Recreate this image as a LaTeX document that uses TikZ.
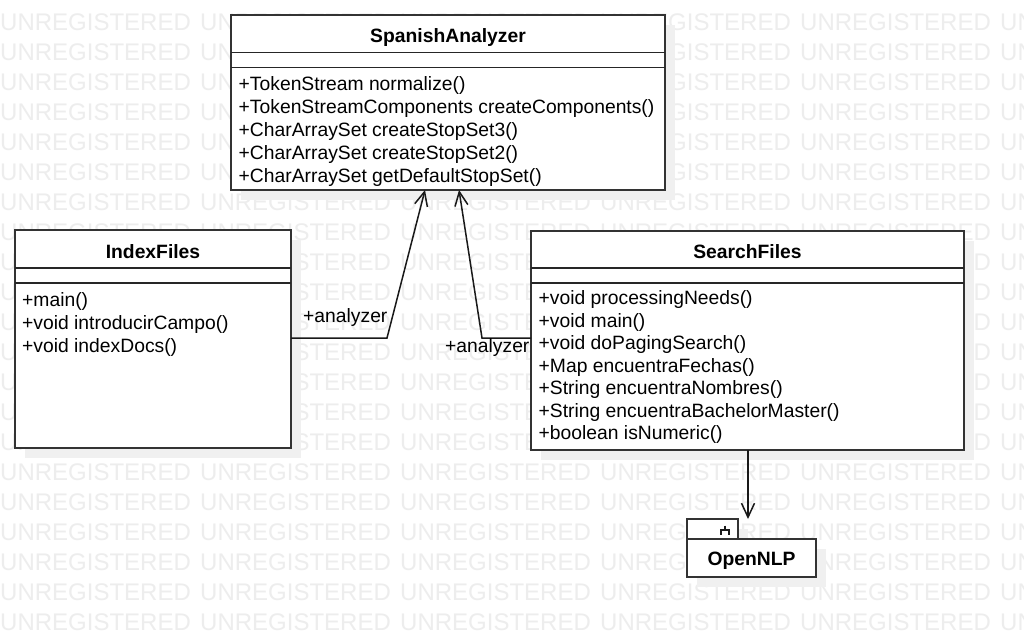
\documentclass[tikz,border=0pt]{standalone}
\usepackage{fontspec}
\setmainfont{Liberation Sans}
\usetikzlibrary{arrows.meta,calc}
\begin{document}
\begin{tikzpicture}[x=1pt,y=-1pt,
  wm/.style={font=\fontsize{24}{24}\selectfont, text=black!7, anchor=base west, inner sep=0pt},
  shadowbox/.style={fill=black!6, draw=none},
  cls/.style={draw=black!80, line width=2pt, fill=white, rectangle, inner sep=0pt, outer sep=0pt, anchor=north west},
  sepline/.style={draw=black!85, line width=1.5pt},
  mtxt/.style={font=\fontsize{19.3}{23}\selectfont, anchor=base west, inner sep=0pt},
  ttxt/.style={font=\fontsize{19.3}{23}\selectfont\bfseries, anchor=base, inner sep=0pt},
  conn/.style={draw=black!90, line width=1.5pt},
  barb/.style={-{Straight Barb[length=14pt,width=13pt]}},
  symline/.style={draw=black!90, line width=1.5pt}
]
\useasboundingbox (0,0) rectangle (1024,637);
\fill[white] (0,0) rectangle (1024,637);
% watermark
\begin{scope}
\clip (0,0) rectangle (1024,637);
\foreach \wrow in {0,...,20}{
  \foreach \wcol in {0,...,5}{
    \node[wm] (wm-\wrow-\wcol) at (200*\wcol, 30.6+30*\wrow) {UNREGISTERED};
  }
}
\end{scope}
% shadows
\fill[shadowbox] (241,25) rectangle (675,200);
\fill[shadowbox] (25,240) rectangle (301,458);
\fill[shadowbox] (541,241) rectangle (974,460);
\fill[shadowbox] (697,529) rectangle (748,549);
\fill[shadowbox] (697,549) rectangle (826,587);
% SpanishAnalyzer
\node[cls, minimum width=434pt, minimum height=175pt] (spanish) at (231,15) {};
\draw[sepline] ($(spanish.north west)+(0,37.7)$) -- ($(spanish.north east)+(0,37.7)$);
\draw[sepline] ($(spanish.north west)+(0,52.3)$) -- ($(spanish.north east)+(0,52.3)$);
\node[ttxt] (spanish-t) at (448,42) {SpanishAnalyzer};
\node[mtxt] (spanish-m1) at (238.5,90.5) {+TokenStream normalize()};
\node[mtxt] (spanish-m2) at (238.5,113.5) {+TokenStreamComponents createComponents()};
\node[mtxt] (spanish-m3) at (238.5,136.5) {+CharArraySet createStopSet3()};
\node[mtxt] (spanish-m4) at (238.5,159.5) {+CharArraySet createStopSet2()};
\node[mtxt] (spanish-m5) at (238.5,182.5) {+CharArraySet getDefaultStopSet()};
% IndexFiles
\node[cls, minimum width=276pt, minimum height=218pt] (index) at (15,230) {};
\draw[sepline] ($(index.north west)+(0,38)$) -- ($(index.north east)+(0,38)$);
\draw[sepline] ($(index.north west)+(0,53)$) -- ($(index.north east)+(0,53)$);
\node[ttxt] (index-t) at (153,258) {IndexFiles};
\node[mtxt] (index-m1) at (22,306) {+main()};
\node[mtxt] (index-m2) at (22,329) {+void introducirCampo()};
\node[mtxt] (index-m3) at (22,352) {+void indexDocs()};
% SearchFiles
\node[cls, minimum width=433pt, minimum height=219pt] (search) at (531,231) {};
\draw[sepline] ($(search.north west)+(0,37)$) -- ($(search.north east)+(0,37)$);
\draw[sepline] ($(search.north west)+(0,52)$) -- ($(search.north east)+(0,52)$);
\node[ttxt] (search-t) at (747.5,258) {SearchFiles};
\node[mtxt] (search-m1) at (538.5,304.5) {+void processingNeeds()};
\node[mtxt] (search-m2) at (538.5,327) {+void main()};
\node[mtxt] (search-m3) at (538.5,349.5) {+void doPagingSearch()};
\node[mtxt] (search-m4) at (538.5,372) {+Map encuentraFechas()};
\node[mtxt] (search-m5) at (538.5,394.5) {+String encuentraNombres()};
\node[mtxt] (search-m6) at (538.5,417) {+String encuentraBachelorMaster()};
\node[mtxt] (search-m7) at (538.5,439.5) {+boolean isNumeric()};
% OpenNLP package
\node[cls, minimum width=51pt, minimum height=20pt] (nlptab) at (687,519) {};
\node[cls, minimum width=129pt, minimum height=38pt] (nlp) at (687,539) {};
\node[ttxt] (nlp-t) at (751.5,565) {OpenNLP};
\draw[symline] (725,525.5) -- (725,530);
\draw[symline] (721,534.5) -- (721,530) -- (729,530) -- (729,534.5);
% connectors
\coordinate (b1) at (387,338);
\coordinate (t1) at (425,0);
\draw[conn,barb] (index.east |- b1) -- (b1) -- (spanish.south -| t1);
\coordinate (b2) at (482,338);
\coordinate (t2) at (459,0);
\draw[conn,barb] (search.west |- b2) -- (b2) -- (spanish.south -| t2);
\coordinate (s1) at (748,0);
\draw[conn,barb] (search.south -| s1) -- (nlptab.north -| s1);
% labels
\node[mtxt] (lab1) at (303,322) {+analyzer};
\node[mtxt] (lab2) at (445,352) {+analyzer};
\end{tikzpicture}
\end{document}
